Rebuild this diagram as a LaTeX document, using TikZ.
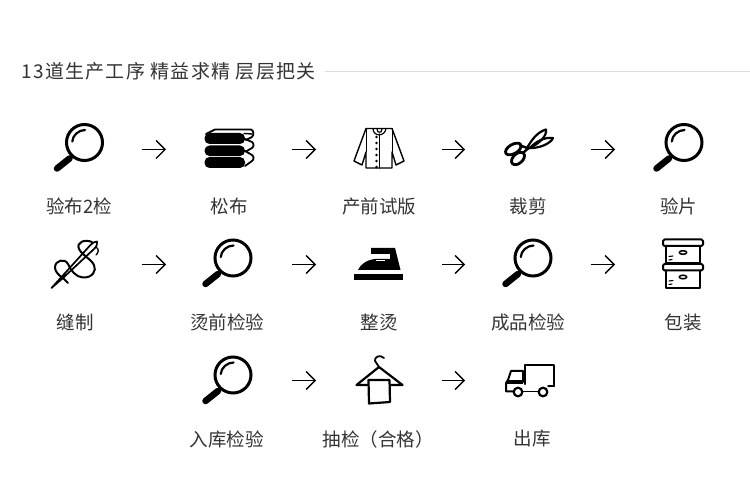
\documentclass[tikz,border=0pt]{standalone}
\usepackage{fontspec}
\setmainfont{Noto Sans CJK SC}
\newfontfamily\titlefont[LetterSpace=6.5]{Noto Sans CJK SC}
\newfontfamily\labelfont{Noto Sans CJK SC}
\usetikzlibrary{arrows.meta}
\definecolor{ink}{HTML}{333333}
\definecolor{rule}{HTML}{DDDDDD}
\tikzset{
  iconbox/.style={minimum width=126pt,minimum height=10pt,inner sep=0pt,outer sep=0pt},
  lab/.style={font=\labelfont\fontsize{18.5}{20}\selectfont,text=ink,inner sep=0pt,anchor=center},
  flow/.style={draw=black,line width=1.4pt,-{Straight Barb[length=9pt,width=18pt,line width=1.4pt]}},
  ico/.style={draw=black,line width=1.8pt,line join=round,line cap=round,fill=none},
  heavy/.style={draw=black,line width=2.8pt,line join=round,line cap=round,fill=none},
  pics/magn/.style={code={
    \draw[draw=black,line width=3pt] (0,0) circle[radius=18pt];
    \draw[draw=black,line width=2.2pt,line cap=round] (-12.2,-1) .. controls (-12,-7) and (-6,-12.5) .. (0.5,-12.5);
    \draw[draw=black,line width=3pt] (-12,12.5) -- (-16,16.5);
    \draw[draw=black,line width=6.5pt,line cap=round] (-15,16) -- (-27.5,26);
  }}
}
\begin{document}
\begin{tikzpicture}[x=1pt,y=-1pt]
\useasboundingbox (0,0) rectangle (750,494);
% title
\node[font=\titlefont\fontsize{19}{20}\selectfont,text=ink,inner sep=0pt,anchor=west] (title) at (21.5,71) {13道生产工序 精益求精 层层把关};
\coordinate (ruleend) at (750,71);
\draw[rule,line width=.8pt] (title.east -| 325,71) -- (ruleend);
% invisible holders of the icons
\foreach \n/\x/\y in {a/78.5/149.5,b/229/149.5,c/379/149.5,d/528/149.5,e/678/149.5,
                      f/78.5/264.5,g/229/264.5,h/379/264.5,i/528/264.5,j/678/264.5,
                      k/229/380.5,l/379/380.5,m/528/380.5}
  \node[iconbox] (\n) at (\x,\y) {};
% arrows
\foreach \p/\q in {a/b,b/c,c/d,d/e,f/g,g/h,h/i,i/j,k/l,l/m}
  \draw[flow] (\p) -- (\q);
% magnifiers
\pic at (84.5,142.5) {magn};
\pic at (684,142.5) {magn};
\pic at (233,258) {magn};
\pic at (533,258) {magn};
\pic at (233,375) {magn};
% fabric stack
\fill[black,rounded corners=5pt] (204.5,133) rectangle (245,144);
\fill[black,rounded corners=5pt] (204.5,145.5) rectangle (245,156);
\fill[black,rounded corners=5pt] (204.5,157) rectangle (245,168);
\draw[ico,line width=1.8pt] (206,134) -- (215,129.5) -- (251,129.5) .. controls (254,130.5) and (254,135) .. (252,137) -- (246,140);
\draw[ico,line width=1.8pt] (245,139) -- (252,142) .. controls (254,143) and (254,147) .. (252,148) -- (246,151.5);
\draw[ico,line width=1.8pt] (245,151) -- (252,155) .. controls (254,156) and (254,160) .. (252,161) -- (245,166);
\draw[ico,line width=1.4pt] (244,133.5) -- (252,134);
% shirt
\draw[ico,line width=1.4pt] (366,128.5) -- (392,128.5) -- (404,161) -- (396,165) -- (392,152) -- (392,168) -- (366,168) -- (366,152) -- (362,165) -- (354,161) -- cycle;
\draw[ico,line width=1.2pt] (373,128.5) .. controls (373,137) and (385,137) .. (386,128.5);
\draw[ico,line width=1.2pt] (377,129) -- (378,132) -- (381,132) -- (382,129);
\draw[ico,line width=1.2pt] (379.5,134) -- (379.5,168);
\foreach \yy in {137,143,149,155,161,167}
  \fill[black] (376.5,\yy) circle[radius=1.4pt];
\draw[ico,line width=.9pt] (366,128.5) -- (366,152);
\draw[ico,line width=.9pt] (392,128.5) -- (392,152);
% scissors
\draw[heavy] (513.3,149) circle[x radius=8.6pt,y radius=4.6pt,rotate=30];
\draw[heavy] (518,158.5) circle[x radius=7.6pt,y radius=4.8pt,rotate=42];
\draw[heavy,line width=2.4pt] (520,145.5) -- (529,148.5);
\draw[heavy,line width=2.4pt] (523,153) -- (529,147.5);
\draw[heavy,line width=2.2pt] (527,148) .. controls (531,141) and (537,132) .. (546,129.5) .. controls (547,136) and (540,143) .. (530,148);
\draw[heavy,line width=2.2pt] (530,148) .. controls (536,141) and (545,137) .. (553,138) .. controls (551,143) and (540,149) .. (527,148);
% needle and thread
\draw[ico,line width=1.7pt] (51.5,288) -- (90,245.5) .. controls (93,242.5) and (95,241.5) .. (97,241.5) .. controls (97.5,244) and (97,246) .. (94,249) -- (63,278) -- cycle;
\draw[ico,line width=2pt] (68,283) -- (63,278) .. controls (58,275) and (55,271) .. (55,267.5) .. controls (55,260) and (65,258) .. (68,264) .. controls (71,271) and (76,277) .. (83,277.5) .. controls (92,278) and (97,271) .. (94,265) .. controls (91,259) and (82,255) .. (79,249) .. controls (76,242) and (85,239) .. (92,242);
\draw[ico,line width=1.3pt] (96,247) .. controls (99,249) and (99,252) .. (96,255);
% iron
\fill[black] (371,248) -- (395,248) -- (400.5,270) -- (358,270) .. controls (360,265) and (366,260) .. (375,259) -- (390,259) -- (390,254) -- (371,254) -- cycle;
\draw[white,line width=1pt] (376,260.5) -- (385,260.5);
\fill[black] (354,274) rectangle (403,280);
% boxes
\foreach \ya/\yb/\yc in {239.5/246/263,264/270.5/288}{
  \draw[ico,line width=1.7pt] (666,\yb) -- (666,\yc) -- (700,\yc) -- (700,\yb);
  \draw[ico,line width=2pt,rounded corners=1.5pt] (663,\ya) rectangle (703,\yb);
  \draw[ico,line width=1.5pt] (683,\yb+6.5) circle[x radius=3.8pt,y radius=1.8pt];
  \draw[ico,line width=1.1pt] (669,\yb+10.5) -- (673,\yb+10);
  \draw[ico,line width=1.1pt] (669,\yb+14) -- (672,\yb+13.5);
}
% hanger
\draw[ico,line width=2.2pt] (368,385) -- (356.5,385) -- (379,367) -- (402.5,385) -- (390,385);
\draw[ico,line width=1.8pt] (379,367) -- (375,361) .. controls (374,357) and (380,354) .. (384,358);
\draw[ico,line width=2.2pt] (368.5,380) -- (389.5,380) -- (390,402) -- (369,403.5) -- cycle;
% truck
\draw[ico,line width=2.2pt] (525,384) -- (525,365) -- (554,365) -- (554,386);
\draw[ico,line width=1.5pt] (548,386) -- (554,386);
\draw[ico,line width=1.8pt] (523,391.5) -- (538,391.5);
\draw[ico,line width=2pt] (523,382) -- (523,371) -- (511,371) -- (508,380);
\draw[ico,line width=2pt] (514,391.5) -- (506,391.5) -- (506,383) -- (508,380);
\fill[black] (507,380) rectangle (523,384);
\draw[ico,line width=2.2pt] (518,392) circle[radius=4.3pt];
\draw[ico,line width=2.2pt] (543,392) circle[radius=4.3pt];
% labels
\node[lab] (t1) at (79,206) {验布2检};
\node[lab] (t2) at (229,206) {松布};
\node[lab] (t3) at (379,206) {产前试版};
\node[lab] (t4) at (528,206) {裁剪};
\node[lab] (t5) at (678.5,206) {验片};
\node[lab] (t6) at (75,322) {缝制};
\node[lab] (t7) at (227,322) {烫前检验};
\node[lab] (t8) at (379,322) {整烫};
\node[lab] (t9) at (528,322) {成品检验};
\node[lab] (t10) at (683,322) {包装};
\node[lab] (t11) at (226.5,439) {入库检验};
\node[lab] (t12) at (378,439) {抽检（合格）};
\node[lab] (t13) at (532,439) {出库};
\end{tikzpicture}
\end{document}
